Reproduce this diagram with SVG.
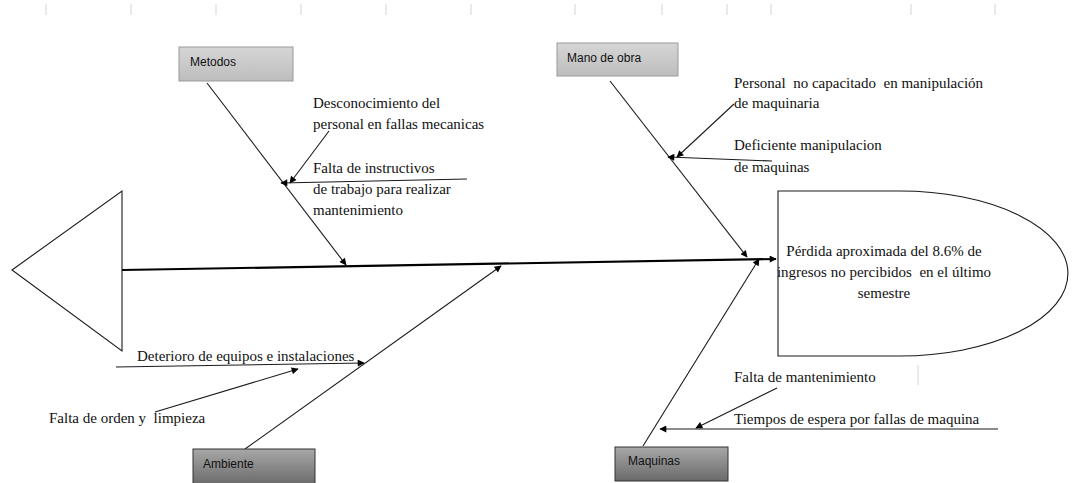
<svg xmlns="http://www.w3.org/2000/svg" width="1073" height="483" viewBox="0 0 1073 483">
<defs>
<marker id="ah" viewBox="0 0 10 10" refX="9" refY="5" markerWidth="9" markerHeight="7" markerUnits="userSpaceOnUse" orient="auto">
<path d="M0,0 L10,5 L0,10 Z" fill="#000"/>
</marker>
<linearGradient id="gLight" x1="0" y1="0" x2="0" y2="1">
<stop offset="0" stop-color="#d6d6d6"/>
<stop offset="1" stop-color="#bdbdbd"/>
</linearGradient>
<linearGradient id="gDark" x1="0" y1="0" x2="0" y2="1">
<stop offset="0" stop-color="#a8a8a8"/>
<stop offset="1" stop-color="#6a6a6a"/>
</linearGradient>
<style>
.ln{stroke:#1a1a1a;stroke-width:1.1;fill:none}
.arr{stroke:#1a1a1a;stroke-width:1.1;fill:none;marker-end:url(#ah)}
.sp{stroke:#000;stroke-width:2.2;fill:none;marker-end:url(#ah)}
.ser{font-family:"Liberation Serif","Times New Roman",serif;font-size:15px;fill:#111;white-space:pre}
.sans{font-family:"Liberation Sans",Arial,sans-serif;font-size:12px;fill:#111}
.tick{stroke:#dcdcdc;stroke-width:1.2}
.boxL{fill:url(#gLight);stroke:#9a9a9a;stroke-width:1}
.boxD{fill:url(#gDark);stroke:#333;stroke-width:1}
</style>
</defs>
<rect width="1073" height="483" fill="#fff"/>
<g id="ruler">
<line class="tick" x1="46" y1="4" x2="46" y2="15"/>
<line class="tick" x1="131" y1="4" x2="131" y2="15"/>
<line class="tick" x1="216" y1="4" x2="216" y2="15"/>
<line class="tick" x1="301" y1="4" x2="301" y2="15"/>
<line class="tick" x1="386" y1="4" x2="386" y2="15"/>
<line class="tick" x1="471" y1="4" x2="471" y2="15"/>
<line class="tick" x1="575" y1="4" x2="575" y2="15"/>
<line class="tick" x1="662" y1="4" x2="662" y2="15"/>
<line class="tick" x1="727" y1="4" x2="727" y2="15"/>
<line class="tick" x1="771" y1="4" x2="771" y2="15"/>
<line class="tick" x1="911" y1="4" x2="911" y2="15"/>
<line class="tick" x1="995" y1="4" x2="995" y2="15"/>
<line class="tick" x1="918" y1="365" x2="918" y2="385"/>
</g>
<g id="head">
<polygon points="12,270 122,191 122,351" fill="none" stroke="#1a1a1a" stroke-width="1.1"/>
</g>
<g id="connectors">
<line class="sp" x1="122" y1="270" x2="776" y2="259"/>
<line class="arr" x1="207" y1="83" x2="346" y2="265"/>
<line class="arr" x1="329" y1="131" x2="290" y2="183"/>
<line class="arr" x1="467" y1="179" x2="281" y2="183"/>
<line class="arr" x1="610" y1="81" x2="747" y2="257"/>
<line class="arr" x1="734" y1="104" x2="677" y2="157"/>
<line class="arr" x1="772" y1="161" x2="668" y2="157"/>
<line class="arr" x1="245" y1="449" x2="501" y2="266"/>
<line class="arr" x1="116" y1="367" x2="364" y2="363"/>
<line class="arr" x1="155" y1="412" x2="298" y2="369"/>
<line class="arr" x1="643" y1="446" x2="759" y2="259"/>
<line class="arr" x1="998" y1="429" x2="660" y2="429"/>
<line class="arr" x1="777" y1="388" x2="696" y2="428"/>
</g>
<g id="effect">
<path d="M778,191 L900,191 A168,82.5 0 0 1 900,356 L778,356 Z" fill="#fff" stroke="#1a1a1a" stroke-width="1.1"/>
<text class="ser" text-anchor="middle" x="884" y="256">Pérdida aproximada del 8.6% de</text>
<text class="ser" text-anchor="middle" x="884" y="277" xml:space="preserve">ingresos no percibidos  en el último</text>
<text class="ser" text-anchor="middle" x="884" y="298">semestre</text>
</g>
<g id="metodos">
<rect class="boxL" x="179" y="47" width="114" height="34"/>
<text class="sans" x="190" y="66">Metodos</text>
</g>
<g id="mano-de-obra">
<rect class="boxL" x="557" y="43" width="121" height="33"/>
<text class="sans" x="567" y="62">Mano de obra</text>
</g>
<g id="ambiente">
<rect class="boxD" x="193" y="449" width="122" height="36"/>
<text class="sans" x="203" y="468">Ambiente</text>
</g>
<g id="maquinas">
<rect class="boxD" x="615" y="447" width="113" height="34"/>
<text class="sans" x="628" y="465">Maquinas</text>
</g>
<g id="cause-desconocimiento">
<text class="ser" x="313" y="108">Desconocimiento del</text>
<text class="ser" x="313" y="129">personal en fallas mecanicas</text>
</g>
<g id="cause-instructivos">
<text class="ser" x="313" y="173">Falta de instructivos</text>
<text class="ser" x="313" y="194">de trabajo para realizar</text>
<text class="ser" x="313" y="215">mantenimiento</text>
</g>
<g id="cause-personal">
<text class="ser" x="734" y="88" xml:space="preserve">Personal  no capacitado  en manipulación</text>
<text class="ser" x="734" y="108">de maquinaria</text>
</g>
<g id="cause-deficiente">
<text class="ser" x="734" y="150">Deficiente manipulacion</text>
<text class="ser" x="734" y="172">de maquinas</text>
</g>
<g id="cause-deterioro">
<text class="ser" x="137" y="361">Deterioro de equipos e instalaciones</text>
</g>
<g id="cause-orden">
<text class="ser" x="49" y="423" xml:space="preserve">Falta de orden y  limpieza</text>
</g>
<g id="cause-mantenimiento">
<text class="ser" x="734" y="382">Falta de mantenimiento</text>
</g>
<g id="cause-tiempos">
<text class="ser" x="734" y="424">Tiempos de espera por fallas de maquina</text>
</g>
</svg>
